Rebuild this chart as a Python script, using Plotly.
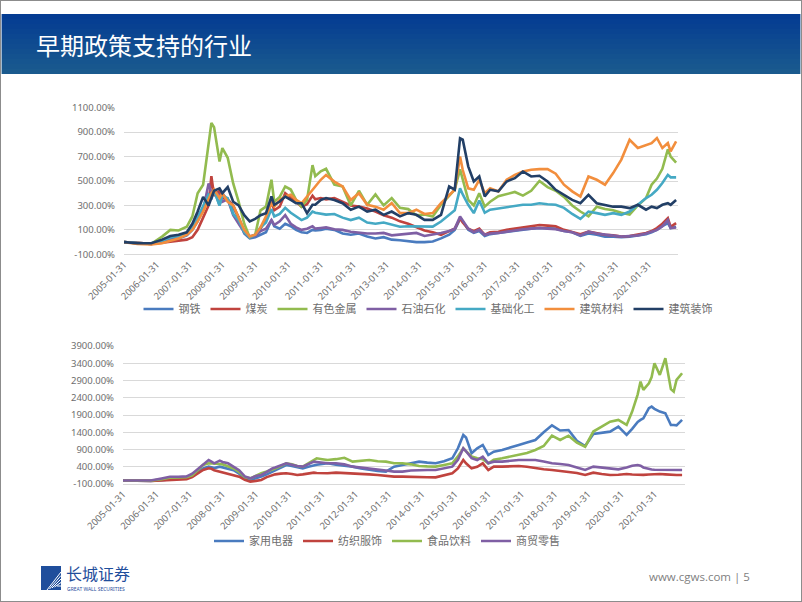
import plotly.graph_objects as go

# ---------------- data ----------------
top_dates = ["2005-01","2005-06","2005-11","2006-03","2006-06","2006-09","2006-12","2007-02","2007-04","2007-06",
             "2007-08","2007-09","2007-10","2007-12","2008-01","2008-03","2008-05","2008-07","2008-09","2008-11",
             "2009-01","2009-03","2009-05","2009-07","2009-08","2009-10","2009-12","2010-02","2010-04","2010-06",
             "2010-08","2010-10","2010-11","2011-01","2011-03","2011-06","2011-09","2011-12","2012-03","2012-06",
             "2012-09","2012-12","2013-03","2013-06","2013-09","2013-12","2014-03","2014-06","2014-09","2014-12",
             "2015-02","2015-04","2015-05","2015-07","2015-09","2015-11","2016-01","2016-03","2016-06","2016-09",
             "2016-12","2017-03","2017-06","2017-09","2017-12","2018-03","2018-06","2018-09","2018-12","2019-03",
             "2019-06","2019-09","2019-12","2020-03","2020-06","2020-09","2020-12","2021-02","2021-04","2021-06",
             "2021-08","2021-09","2021-11"]

steel = [0,-10,-15,0,20,30,55,100,170,280, 400,350,430,300,400,340,280,200,70,30,
         40,60,80,180,130,110,150,130,100,80, 75,100,95,100,110,100,70,60,70,45,
         30,40,20,15,5,0,0,5,30,60, 100,190,170,100,75,90,50,65,75,85,
         95,100,110,115,115,110,90,80,50,70, 60,45,45,40,45,55,65,80,100,130,
         155,115,125]
coal = [0,-10,-15,-5,5,10,20,40,100,200, 300,540,380,420,360,350,300,200,80,40,
        60,110,190,330,260,290,400,360,330,290, 310,380,350,360,350,360,330,300,290,275,
        250,220,200,170,150,125,95,80,60,90, 110,195,160,110,90,110,60,80,85,100,
        110,115,125,140,135,130,100,80,65,85, 70,60,55,45,50,60,75,90,115,150,
        195,125,155]
nonferrous = [0,-10,-15,45,100,95,125,210,400,470, 800,975,940,660,770,690,480,330,150,40,
              60,260,290,510,330,370,455,430,345,290, 345,630,540,580,600,470,455,300,420,305,
              390,300,360,280,270,220,225,210,305,385, 430,595,510,345,300,400,290,330,375,390,
              410,380,420,500,450,420,370,300,250,210, 290,270,260,240,225,300,360,470,520,600,
              760,700,650]
petro = [0,-10,-15,10,40,50,60,120,220,260, 480,400,420,380,330,350,220,150,80,50,
         50,90,110,180,140,170,220,150,120,100, 110,130,110,115,120,105,100,85,75,70,
         70,75,55,60,70,75,50,60,75,90, 110,210,180,110,80,100,60,70,75,85,
         100,105,110,115,110,105,90,80,55,85, 70,60,50,45,50,55,70,85,100,130,
         180,115,120]
chem = [0,-10,-10,10,40,50,70,130,200,300, 390,380,420,300,380,360,230,180,80,40,
        60,120,160,270,210,230,280,240,210,180, 200,250,240,235,225,230,200,180,200,160,
        150,160,140,125,130,130,130,127,168,223, 260,440,390,305,237,340,240,265,275,285,
        300,305,305,318,310,305,280,230,190,250, 237,223,237,223,250,305,360,387,428,483,
        550,530,530]
buildmat = [0,-15,-20,-10,10,30,60,100,170,250, 350,400,430,360,400,330,300,200,100,45,
            60,120,210,320,290,345,375,387,345,318, 373,428,455,510,550,495,455,345,400,305,
            290,265,320,237,237,265,230,237,318,387, 430,700,590,440,428,510,400,440,415,510,
            550,578,592,597,597,560,470,415,373,537, 510,470,565,675,838,770,797,810,852,770,
            810,742,825]
builddeco = [0,-10,-10,20,50,60,80,150,250,370, 300,360,420,440,400,450,330,300,220,170,
             190,220,237,373,305,332,373,345,318,318, 237,305,305,345,360,345,318,265,290,250,
             265,223,250,210,237,223,182,182,223,455, 430,850,838,620,496,537,373,428,415,496,
             523,578,537,543,496,428,387,345,318,387, 318,305,290,290,278,305,265,290,278,305,
             318,305,345]

bottom_dates = top_dates[:73] + ["2020-03","2020-05","2020-07","2020-08","2020-09","2020-11","2020-12",
                                 "2021-01","2021-03","2021-05","2021-07","2021-08","2021-09","2021-11"]

appliance = [0,-10,-10,10,40,60,80,150,250,354, 403,380,360,403,380,354,300,200,60,16,
             60,113,180,258,300,380,451,420,380,354, 400,451,460,480,500,460,430,403,350,306,
             280,258,403,451,500,548,520,500,560,645, 935,1321,1250,790,935,1031,741,838,886,950,
             1031,1100,1176,1400,1600,1450,1466,1150,1000,1350, 1380,1418,1563,
             1321,1500,1700,1757,1805,2100,2143,2080,2000,1950,1612,1612,1600,1757]
textile = [0,-10,-10,0,10,20,40,100,200,306, 354,340,300,258,250,210,160,113,20,-32,
           -10,16,100,161,180,200,210,190,161,180, 210,229,220,210,210,229,220,190,185,180,
           160,132,113,113,100,93,95,93,150,210, 350,596,500,354,400,500,306,403,403,410,
           422,400,354,330,306,280,258,220,161,229, 190,161,170,
           190,175,165,161,165,175,180,185,190,180,165,160,160,161]
food = [0,-10,-5,40,80,90,100,150,300,451, 500,500,500,480,470,420,350,250,100,64,
        150,210,260,306,350,420,500,470,420,403, 500,600,645,620,596,620,660,548,580,596,
        560,548,500,500,470,422,410,403,450,500, 700,935,850,700,645,620,500,600,645,690,
        741,800,886,1000,1300,1176,1300,1100,980,1420, 1563,1708,1757,
        1612,2000,2500,2869,2627,2820,3000,3400,3062,3545,2650,2579,2917,3110]
retail = [0,-10,0,60,110,110,120,200,330,450, 596,550,500,577,540,500,400,300,120,64,
          130,161,250,354,380,450,500,460,420,403, 480,548,540,520,500,500,470,403,380,354,
          320,290,258,258,290,306,306,306,360,403, 600,935,850,650,596,693,500,548,548,580,
          596,596,596,550,500,480,451,380,306,403, 380,354,325,
          380,430,451,430,380,325,320,315,310,306,306,306,306,306]

top_names = ["钢铁", "煤炭", "有色金属", "石油石化", "基础化工", "建筑材料", "建筑装饰"]
top_series = [steel, coal, nonferrous, petro, chem, buildmat, builddeco]
bottom_names = ["家用电器", "纺织服饰", "食品饮料", "商贸零售"]
bottom_series = [appliance, textile, food, retail]

year_labels = ["2005-01-31","2006-01-31","2007-01-31","2008-01-31","2009-01-31","2010-01-31","2011-01-31",
               "2012-01-31","2013-01-31","2014-01-31","2015-01-31","2016-01-31","2017-01-31","2018-01-31",
               "2019-01-31","2020-01-31","2021-01-31"]
top_yticks = [-100, 100, 300, 500, 700, 900, 1100]
bottom_yticks = [-100, 400, 900, 1400, 1900, 2400, 2900, 3400, 3900]

# ---------------- style ----------------
top_colors = ["#4a7bbf", "#c0433e", "#92bb4f", "#7f5fa4", "#45a9c4", "#f28e3d", "#223f66"]
bottom_colors = ["#4a7bbf", "#c0433e", "#92bb4f", "#7f5fa4"]
W, H = 802, 602
axis_font = dict(family="Noto Sans, Open Sans, sans-serif", size=9.5, color="#6e6e6e")
grid = "#d9d9d9"

fig = go.Figure()
for name, vals, col in zip(top_names, top_series, top_colors):
    fig.add_trace(go.Scatter(x=top_dates, y=vals, name=name, mode="lines",
                             line=dict(color=col, width=2.6), xaxis="x", yaxis="y", legend="legend"))
for name, vals, col in zip(bottom_names, bottom_series, bottom_colors):
    fig.add_trace(go.Scatter(x=bottom_dates, y=vals, name=name, mode="lines",
                             line=dict(color=col, width=2.6), xaxis="x2", yaxis="y2", legend="legend2"))

def px_x(v):
    return v / W

def px_y(v):
    return 1 - v / H

tickdates = [s[:7] for s in year_labels]

xcommon = dict(type="date", tickmode="array", tickvals=tickdates, ticktext=year_labels,
               tickangle=-45, tickfont=axis_font, showgrid=False, zeroline=False,
               showline=True, linecolor=grid, linewidth=1, ticks="", fixedrange=True,
               automargin=False)
ycommon = dict(tickmode="array", tickfont=axis_font, showgrid=True, gridcolor=grid, gridwidth=1,
               zeroline=False, showline=False, ticks="", ticklabelstandoff=8, automargin=False,
               fixedrange=True)

shapes = []
# slide frame
shapes.append(dict(type="rect", xref="paper", yref="paper", x0=0, x1=1, y0=0, y1=1,
                   line=dict(color="#8c8c8c", width=2), fillcolor="rgba(0,0,0,0)", layer="above"))
# title band (gradient by strips)
band_top, band_bot = 14, 74
strips = 12
c0 = (4, 60, 146)
c1 = (26, 90, 142)
for i in range(strips):
    f = i / (strips - 1)
    c = tuple(int(round(c0[k] + (c1[k] - c0[k]) * f)) for k in range(3))
    ya = band_top + (band_bot - band_top) * i / strips
    yb = band_top + (band_bot - band_top) * (i + 1) / strips
    shapes.append(dict(type="rect", xref="paper", yref="paper", x0=0.002, x1=0.998,
                       y0=px_y(yb), y1=px_y(ya), line=dict(width=0),
                       fillcolor="rgb(%d,%d,%d)" % c, layer="below"))
# logo icon
shapes.append(dict(type="rect", xref="paper", yref="paper", x0=px_x(41), x1=px_x(61),
                   y0=px_y(590), y1=px_y(566), line=dict(width=0), fillcolor="#1f4e9c"))
for k in range(5):
    shapes.append(dict(type="line", xref="paper", yref="paper",
                       x0=px_x(47 + k * 2.5), x1=px_x(61), y0=px_y(590 - k * 1), y1=px_y(572 + k * 3.5),
                       line=dict(color="white", width=1)))

annotations = [
    dict(text="早期政策支持的行业", x=px_x(34), y=px_y(45), xref="paper", yref="paper",
         xanchor="left", yanchor="middle", showarrow=False,
         font=dict(family="Noto Sans CJK SC", size=24, color="white")),
    dict(text="长城证券", x=px_x(64), y=px_y(573), xref="paper", yref="paper",
         xanchor="left", yanchor="middle", showarrow=False,
         font=dict(family="Noto Sans CJK SC", size=16, color="#1f4e9c")),
    dict(text="GREAT WALL SECURITIES", x=px_x(65), y=px_y(589), xref="paper", yref="paper",
         xanchor="left", yanchor="middle", showarrow=False,
         font=dict(family="Noto Sans, sans-serif", size=5, color="#1f4e9c")),
    dict(text="www.cgws.com | 5", x=px_x(752), y=px_y(576), xref="paper", yref="paper",
         xanchor="right", yanchor="middle", showarrow=False,
         font=dict(family="Open Sans, sans-serif", size=11.5, color="#7f7f7f")),
]

legend_font = dict(family="Noto Sans CJK SC", size=11, color="#6e6e6e")

fig.update_layout(
    width=W, height=H, autosize=False,
    margin=dict(l=0, r=0, t=0, b=0, autoexpand=False),
    paper_bgcolor="white", plot_bgcolor="white",
    showlegend=True,
    hovermode=False,
    xaxis=dict(domain=[px_x(124), px_x(678)], range=["2005-01-01", "2021-11-22"], anchor="y", **xcommon),
    yaxis=dict(domain=[px_y(254.3), px_y(107.7)], range=[-100, 1100], anchor="x",
               tickvals=top_yticks, ticktext=["%.2f%%" % v for v in top_yticks], **ycommon),
    xaxis2=dict(domain=[px_x(123), px_x(685)], range=["2005-01-01", "2021-12-03"], anchor="y2", **xcommon),
    yaxis2=dict(domain=[px_y(484), px_y(346)], range=[-100, 3900], anchor="x2",
                tickvals=bottom_yticks, ticktext=["%.2f%%" % v for v in bottom_yticks], **ycommon),
    legend=dict(orientation="h", x=px_x(428), xanchor="center", y=px_y(309), yanchor="middle",
                font=legend_font, itemwidth=30, bgcolor="rgba(0,0,0,0)", traceorder="normal"),
    legend2=dict(orientation="h", x=px_x(387), xanchor="center", y=px_y(541), yanchor="middle",
                 font=legend_font, itemwidth=30, bgcolor="rgba(0,0,0,0)", traceorder="normal"),
    shapes=shapes,
    annotations=annotations,
)

fig.write_html("out.html", config={"displayModeBar": False},
               post_script="document.body.style.margin='0px';document.body.style.overflow='hidden';")
